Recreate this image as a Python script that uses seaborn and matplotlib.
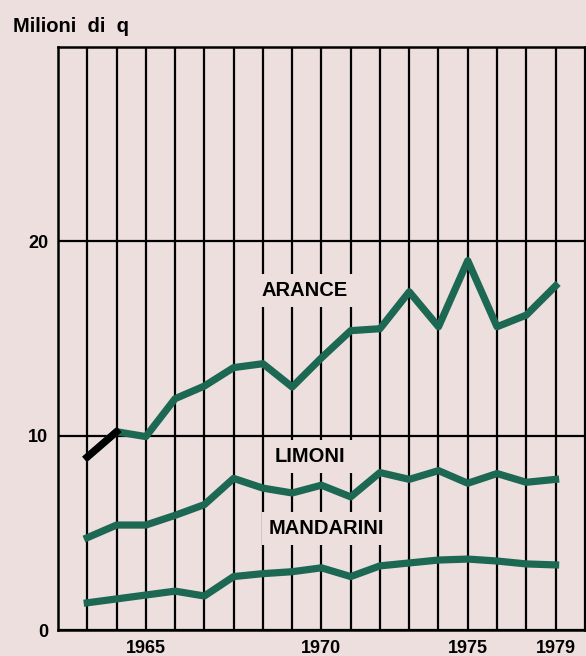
import matplotlib.pyplot as plt
import pandas as pd
import seaborn as sns

# production of citrus fruit, millions of quintals
years = list(range(1963, 1980))
arance = [8.9, 10.2, 9.95, 11.9, 12.55, 13.5, 13.7, 12.5, 14.0, 15.4, 15.5, 17.4, 15.6, 19.0, 15.6, 16.2, 17.7]
limoni = [4.75, 5.4, 5.4, 5.9, 6.45, 7.8, 7.3, 7.05, 7.45, 6.85, 8.1, 7.75, 8.2, 7.55, 8.05, 7.6, 7.75]
mandarini = [1.4, 1.6, 1.8, 2.0, 1.75, 2.75, 2.9, 3.0, 3.2, 2.75, 3.3, 3.45, 3.6, 3.65, 3.55, 3.4, 3.35]

# the original prints its year labels on these grid lines
tick_pos = [1965, 1971, 1976, 1979]
tick_labels = ["1965", "1970", "1975", "1979"]

bg = "#eedfdf"
green = "#1d6852"

df = pd.concat([
    pd.DataFrame({"anno": years, "val": arance, "serie": "ARANCE"}),
    pd.DataFrame({"anno": years, "val": limoni, "serie": "LIMONI"}),
    pd.DataFrame({"anno": years, "val": mandarini, "serie": "MANDARINI"}),
])

plt.rcParams["font.family"] = ["Liberation Sans", "DejaVu Sans"]
plt.rcParams["font.weight"] = "bold"

fig = plt.figure(figsize=(5.86, 6.56), dpi=100, facecolor=bg)
ax = fig.add_axes([0.099, 0.0396, 0.899, 0.889])
ax.set_facecolor(bg)

sns.lineplot(data=df, x="anno", y="val", hue="serie",
             palette=[green, green, green], linewidth=5.2,
             legend=False, ax=ax, zorder=3)
# first stretch of the orange series is printed in black
sns.lineplot(x=years[:2], y=arance[:2], color="black", linewidth=5.2,
             ax=ax, zorder=4)

ax.set_xlim(1962, 1980)
ax.set_ylim(0, 30)
ax.set_xticks(tick_pos)
ax.set_xticklabels(tick_labels)
ax.set_xticks(range(1963, 1981), minor=True)
ax.set_yticks([0, 10, 20])
ax.grid(axis="x", which="both", color="black", linewidth=1.6, zorder=1)
ax.grid(axis="y", which="major", color="black", linewidth=1.6, zorder=1)
ax.set_axisbelow(True)
ax.tick_params(axis="both", which="both", length=0, labelsize=13)
ax.tick_params(axis="y", pad=7)
ax.tick_params(axis="x", pad=7)
for lab in ax.get_xticklabels() + ax.get_yticklabels():
    lab.set_fontweight("bold")
for s in ax.spines.values():
    s.set_color("black")
    s.set_linewidth(1.8)
ax.set_xlabel("")
ax.set_ylabel("")

box = dict(boxstyle="square,pad=0.35", fc=bg, ec="none")
ax.text(1970.42, 17.46, "ARANCE", fontsize=14.5, fontweight="bold",
        ha="center", va="center", bbox=box, zorder=2)
ax.text(1970.62, 8.94, "LIMONI", fontsize=14.5, fontweight="bold",
        ha="center", va="center", bbox=box, zorder=2)
ax.text(1971.17, 5.24, "MANDARINI", fontsize=14.5, fontweight="bold",
        ha="center", va="center", bbox=box, zorder=2)

fig.text(12.7 / 586, 1 - 26 / 656, "Milioni  di  q", fontsize=14.5,
         fontweight="bold", ha="left", va="center")

fig.savefig("out.png", dpi=100, facecolor=bg)
